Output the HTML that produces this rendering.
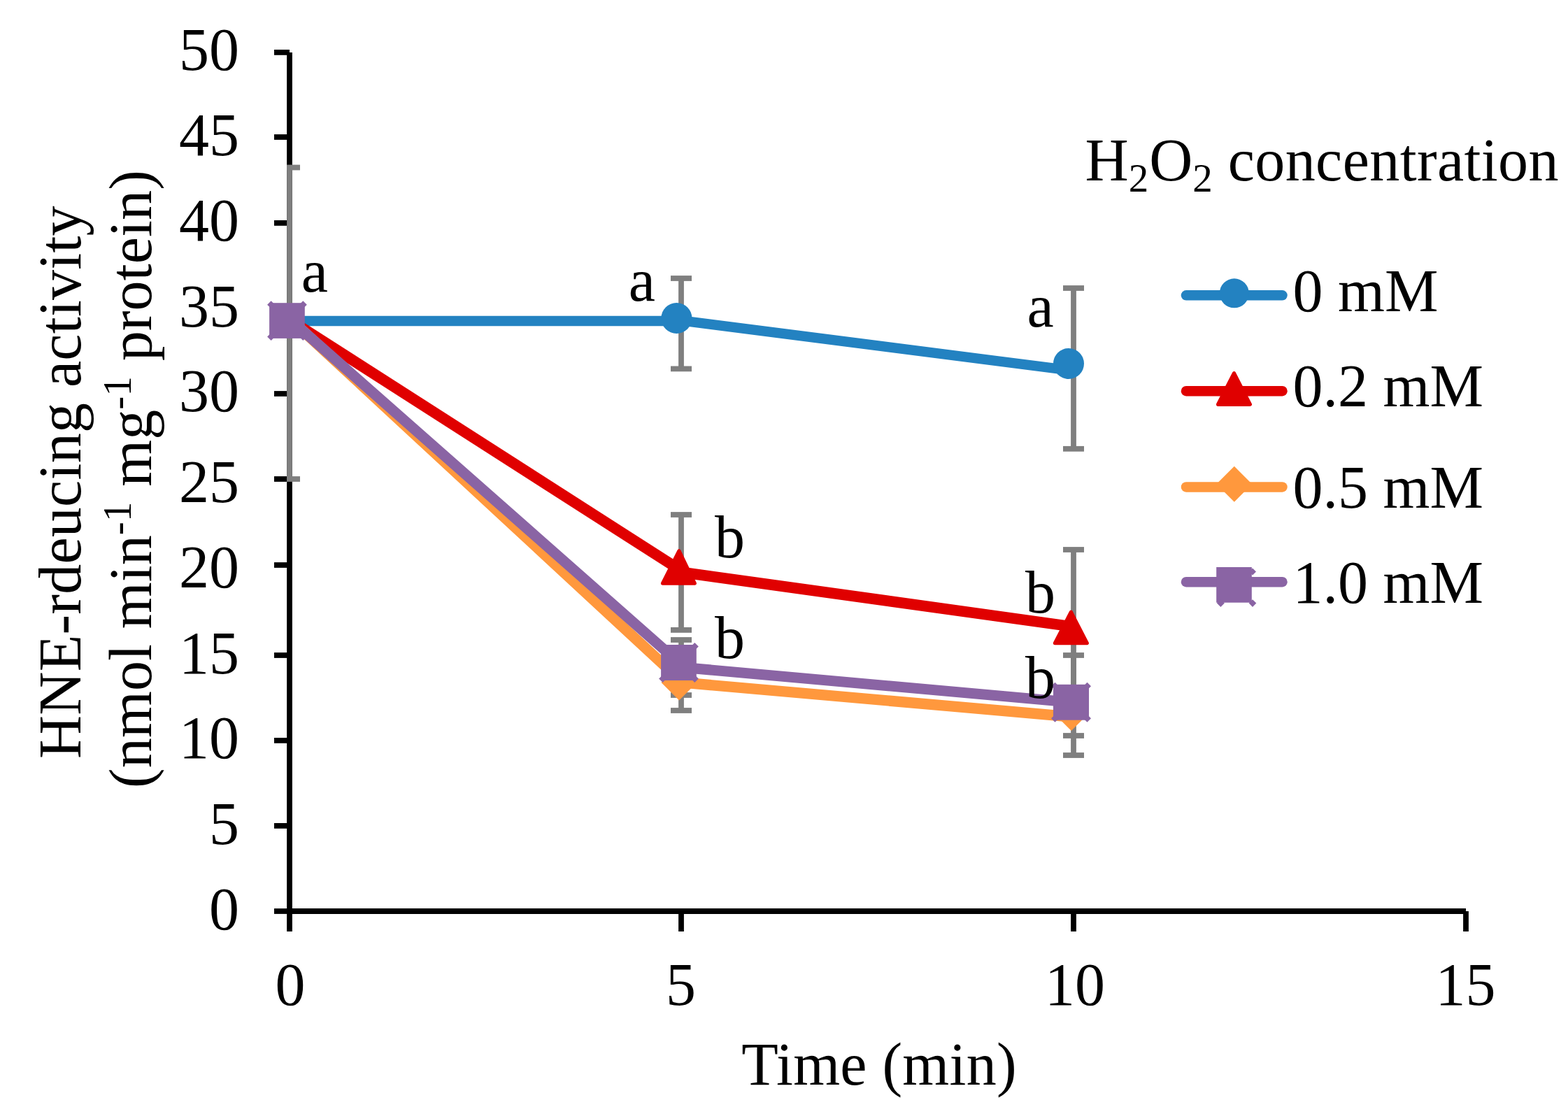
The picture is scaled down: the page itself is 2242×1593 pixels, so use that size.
<!DOCTYPE html><html><head><meta charset="utf-8"><style>html,body{margin:0;padding:0;background:#fff;overflow:hidden}svg{display:block}text{font-family:"Liberation Serif","Times New Roman",serif;fill:#000}</style></head><body>
<svg width="2242" height="1593" viewBox="0 0 2242 1593">
<rect width="2242" height="1593" fill="#fff"/>
<g stroke="#000" stroke-width="7.8" fill="none">
<line x1="414" y1="74.9" x2="414" y2="1303"/>
<line x1="414" y1="1303" x2="2096" y2="1303"/>
<line x1="392" y1="74.9" x2="414" y2="74.9"/>
<line x1="392" y1="196" x2="414" y2="196"/>
<line x1="392" y1="318.9" x2="414" y2="318.9"/>
<line x1="392" y1="441" x2="414" y2="441"/>
<line x1="392" y1="563" x2="414" y2="563"/>
<line x1="392" y1="685" x2="414" y2="685"/>
<line x1="392" y1="808" x2="414" y2="808"/>
<line x1="392" y1="937" x2="414" y2="937"/>
<line x1="392" y1="1058.9" x2="414" y2="1058.9"/>
<line x1="392" y1="1180.9" x2="414" y2="1180.9"/>
<line x1="392" y1="1303" x2="414" y2="1303"/>
<line x1="414" y1="1303" x2="414" y2="1332"/>
<line x1="974" y1="1303" x2="974" y2="1332"/>
<line x1="1535" y1="1303" x2="1535" y2="1332"/>
<line x1="2096" y1="1303" x2="2096" y2="1332"/>
</g>
<g font-size="86" text-anchor="end">
<text x="342" y="100.3">50</text>
<text x="342" y="221.9">45</text>
<text x="342" y="343.9">40</text>
<text x="342" y="467.3">35</text>
<text x="342" y="587.5">30</text>
<text x="342" y="717.7">25</text>
<text x="342" y="839.9">20</text>
<text x="342" y="963.3">15</text>
<text x="342" y="1083.9">10</text>
<text x="342" y="1207.2">5</text>
<text x="342" y="1329">0</text>
</g>
<g font-size="86" text-anchor="middle">
<text x="415" y="1437">0</text>
<text x="973.5" y="1437">5</text>
<text x="1537" y="1437">10</text>
<text x="2095.5" y="1437">15</text>
</g>
<text font-size="86" x="1257" y="1551" text-anchor="middle" letter-spacing="0.25">Time (min)</text>
<text font-size="86" transform="translate(114.6,689.6) rotate(-90)" text-anchor="middle" letter-spacing="0.25">HNE-rdeucing activity</text>
<text font-size="86" transform="translate(215.6,685) rotate(-90)" text-anchor="middle" letter-spacing="0.12">(nmol min<tspan dy="-29" font-size="57">-1</tspan><tspan dy="29"> mg</tspan><tspan dy="-29" font-size="57">-1</tspan><tspan dy="29"> protein)</tspan></text>
<g stroke="#7F7F7F" stroke-width="7.8" fill="none">
<line x1="414" y1="239.5" x2="414" y2="685"/><line x1="410" y1="239.5" x2="429" y2="239.5"/><line x1="410" y1="685" x2="429" y2="685"/>
<line x1="974" y1="398" x2="974" y2="527.4"/><line x1="959" y1="398" x2="989" y2="398"/><line x1="959" y1="527.4" x2="989" y2="527.4"/>
<line x1="1535" y1="412" x2="1535" y2="641.8"/><line x1="1520" y1="412" x2="1550" y2="412"/><line x1="1520" y1="641.8" x2="1550" y2="641.8"/>
<line x1="974" y1="736" x2="974" y2="900.9"/><line x1="959" y1="736" x2="989" y2="736"/><line x1="959" y1="900.9" x2="989" y2="900.9"/>
<line x1="974" y1="915" x2="974" y2="1016"/><line x1="959" y1="915" x2="989" y2="915"/><line x1="959" y1="1016" x2="989" y2="1016"/>
<line x1="959" y1="994" x2="989" y2="994"/>
<line x1="1535" y1="786" x2="1535" y2="1004"/><line x1="1520" y1="786" x2="1550" y2="786"/><line x1="1520" y1="1004" x2="1550" y2="1004"/>
<line x1="1535" y1="937" x2="1535" y2="1080"/><line x1="1520" y1="937" x2="1550" y2="937"/><line x1="1520" y1="1080" x2="1550" y2="1080"/>
<line x1="1520" y1="1052" x2="1550" y2="1052"/>
</g>
<path d="M414,459 L974,459 M974,458.4 L1535,530.2" fill="none" stroke="#2382C1" stroke-width="14.3" stroke-linecap="round"/>
<circle cx="967.4" cy="455" r="22" fill="#2382C1"/>
<circle cx="1528" cy="520" r="22" fill="#2382C1"/>
<path d="M414,457.2 L974,816.1 M974,818.3 L1535,896.2" fill="none" stroke="#E00000" stroke-width="15.5" stroke-linecap="round"/>
<path d="M971,787.8000000000001 L993.3,834.1 L947.5,834.1 Z" fill="#E00000" stroke="#E00000" stroke-width="5.2" stroke-linejoin="round"/>
<path d="M1531.4,875.1 L1554.3000000000002,919.6 L1508.3999999999999,919.6 Z" fill="#E00000" stroke="#E00000" stroke-width="5.2" stroke-linejoin="round"/>
<path d="M414,455.3 L974,973.8 M974,975.9 L1535,1025.3" fill="none" stroke="#FF983D" stroke-width="15.3" stroke-linecap="round"/>
<path d="M971,950.5 L996.5,976 L971,1001.5 L945.5,976 Z" fill="#FF983D"/>
<path d="M1531.8,994.1 L1557.3,1019.6 L1531.8,1045.1 L1506.3,1019.6 Z" fill="#FF983D"/>
<path d="M414,456.2 L974,950.4 M974,954.2 L1535,1004.6" fill="none" stroke="#8A64A4" stroke-width="15.0" stroke-linecap="round"/>
<rect x="385.1" y="433.2" width="50.69999999999999" height="50.69999999999999" fill="#8A64A4"/><path d="M387.6,430.2 L393.1,435.7 L387.6,441.2 L382.1,435.7 Z" fill="#8A64A4"/><path d="M433.3,430.2 L438.8,435.7 L433.3,441.2 L427.8,435.7 Z" fill="#8A64A4"/><path d="M387.6,475.9 L393.1,481.4 L387.6,486.9 L382.1,481.4 Z" fill="#8A64A4"/><path d="M433.3,475.9 L438.8,481.4 L433.3,486.9 L427.8,481.4 Z" fill="#8A64A4"/>
<rect x="945.1" y="922" width="50.69999999999993" height="51" fill="#8A64A4"/><path d="M947.6,919.0 L953.1,924.5 L947.6,930.0 L942.1,924.5 Z" fill="#8A64A4"/><path d="M993.3,919.0 L998.8,924.5 L993.3,930.0 L987.8,924.5 Z" fill="#8A64A4"/><path d="M947.6,965.0 L953.1,970.5 L947.6,976.0 L942.1,970.5 Z" fill="#8A64A4"/><path d="M993.3,965.0 L998.8,970.5 L993.3,976.0 L987.8,970.5 Z" fill="#8A64A4"/>
<rect x="1506" y="978.8" width="51" height="50.90000000000009" fill="#8A64A4"/><path d="M1508.5,975.8 L1514.0,981.3 L1508.5,986.8 L1503.0,981.3 Z" fill="#8A64A4"/><path d="M1554.5,975.8 L1560.0,981.3 L1554.5,986.8 L1549.0,981.3 Z" fill="#8A64A4"/><path d="M1508.5,1021.7 L1514.0,1027.2 L1508.5,1032.7 L1503.0,1027.2 Z" fill="#8A64A4"/><path d="M1554.5,1021.7 L1560.0,1027.2 L1554.5,1032.7 L1549.0,1027.2 Z" fill="#8A64A4"/>
<g font-size="86">
<text x="430.7" y="416.70000000000005">a</text>
<text x="898.8" y="430.1">a</text>
<text x="1468.5" y="467.40000000000003">a</text>
<text x="1022" y="796.9">b</text>
<text x="1022" y="940.8000000000001">b</text>
<text x="1466" y="875.6">b</text>
<text x="1466" y="998.2">b</text>
</g>
<text font-size="86" x="1551.6" y="258">H<tspan font-size="57" dy="15.5">2</tspan><tspan dy="-15.5" dx="1">O</tspan><tspan font-size="57" dy="15.5">2</tspan><tspan dy="-15.5" letter-spacing="0.4"> concentration</tspan></text>
<line x1="1696" y1="422.3" x2="1833.5" y2="422.3" stroke="#2382C1" stroke-width="14.5" stroke-linecap="round"/>
<circle cx="1764.8" cy="419.3" r="21" fill="#2382C1"/>
<text font-size="86" x="1848.5" y="444.6">0 mM</text>
<line x1="1696" y1="559.2" x2="1833.5" y2="559.2" stroke="#E00000" stroke-width="14.5" stroke-linecap="round"/>
<path d="M1764.5,533.6 L1787.4,578.3 L1741.6,578.3 Z" fill="#E00000" stroke="#E00000" stroke-width="5.2" stroke-linejoin="round"/>
<text font-size="86" x="1848.5" y="580.8">0.2 mM</text>
<line x1="1696" y1="696.4" x2="1833.5" y2="696.4" stroke="#FF983D" stroke-width="14.5" stroke-linecap="round"/>
<path d="M1764.8,666.8 L1790.3,692.3 L1764.8,717.8 L1739.3,692.3 Z" fill="#FF983D"/>
<text font-size="86" x="1848.5" y="725.6">0.5 mM</text>
<line x1="1696" y1="832.2" x2="1833.5" y2="832.2" stroke="#8A64A4" stroke-width="14.5" stroke-linecap="round"/>
<rect x="1739.2" y="811" width="50.6" height="50.7" fill="#8A64A4"/>
<path d="M1791,812.6 L1796,817.6 L1791,822.6 L1786,817.6 Z" fill="#8A64A4"/>
<path d="M1745.4,856.9 L1750.9,862.4 L1745.4,867.9 L1739.9,862.4 Z" fill="#8A64A4"/>
<path d="M1791,857.3000000000001 L1796.3,862.6 L1791,867.9 L1785.7,862.6 Z" fill="#8A64A4"/>
<text font-size="86" x="1848.5" y="861.6">1.0 mM</text>
</svg></body></html>
